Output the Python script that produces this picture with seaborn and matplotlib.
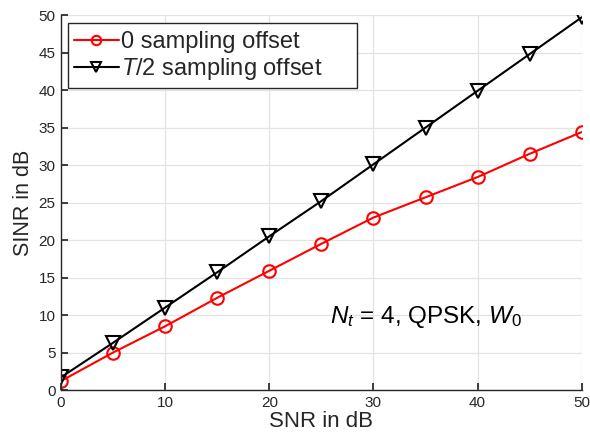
import matplotlib
matplotlib.use("Agg")
import matplotlib.pyplot as plt
from matplotlib.patches import Rectangle
import seaborn as sns
import pandas as pd

snr = [0, 5, 10, 15, 20, 25, 30, 35, 40, 45, 50]
sinr_zero = [1.2, 5.0, 8.5, 12.3, 15.9, 19.5, 23.0, 25.7, 28.4, 31.5, 34.4]
sinr_half = [1.7, 6.3, 11.0, 15.7, 20.5, 25.2, 30.1, 35.0, 39.9, 44.8, 49.7]
labels = ["0 sampling offset", r"$\it{T/2}$ sampling offset"]

sns.set_theme(style="whitegrid")
plt.rcParams['font.family'] = ['Liberation Sans', 'DejaVu Sans']
plt.rcParams['mathtext.fontset'] = 'custom'
plt.rcParams['mathtext.rm'] = 'Liberation Sans'
plt.rcParams['mathtext.it'] = 'Liberation Sans:italic'

fig = plt.figure(figsize=(5.9, 4.43), dpi=100)
ax = fig.add_axes([0.1034, 0.1196, 0.8826, 0.8464])

df1 = pd.DataFrame({"snr": snr, "sinr": sinr_zero})
df2 = pd.DataFrame({"snr": snr, "sinr": sinr_half})
sns.lineplot(data=df1, x="snr", y="sinr", ax=ax, color="red", marker="o",
             markersize=9, markerfacecolor="none", markeredgecolor="red",
             markeredgewidth=1.5, linewidth=1.5, label=labels[0])
sns.lineplot(data=df2, x="snr", y="sinr", ax=ax, color="black", marker="v",
             markersize=10.5, markerfacecolor="none", markeredgecolor="black",
             markeredgewidth=1.5, linewidth=1.5, label=labels[1])

ax.set_xlim(0, 50)
ax.set_ylim(0, 50)
ax.set_xticks(range(0, 51, 10))
ax.set_yticks(range(0, 51, 5))
ax.set_xlabel("SNR in dB", fontsize=16, color="#262626", labelpad=1)
ax.set_ylabel("SINR in dB", fontsize=15.5, color="#262626", labelpad=3)
ax.tick_params(axis="both", labelsize=11, colors="#262626", length=5,
               direction="in", pad=4, bottom=True, left=True)
ax.set_facecolor("white")
ax.grid(True, color="#e3e3e3", linewidth=0.9)
for s in ["top", "right"]:
    ax.spines[s].set_visible(False)
for s in ["left", "bottom"]:
    ax.spines[s].set_color("#262626")
    ax.spines[s].set_linewidth(1.0)

# legend box (MATLAB-style, with extra right padding)
box = Rectangle((0.0134, 0.8053), 0.5546, 0.1734, transform=ax.transAxes,
                facecolor="white", edgecolor="#262626", linewidth=1.0,
                zorder=4.9)
ax.add_patch(box)
leg = ax.legend(loc="upper left", fontsize=17, frameon=False,
                borderpad=0.25, labelspacing=0.12, handlelength=1.9,
                handletextpad=0.1, bbox_to_anchor=(0.013, 0.972),
                borderaxespad=0, markerscale=0.75)
leg.set_zorder(5)

ax.text(25.8, 9.8, r"$N_t$ = 4, QPSK, $W_0$", fontsize=17.5, ha="left",
        va="center", color="black")

fig.savefig("out.png", dpi=100)
